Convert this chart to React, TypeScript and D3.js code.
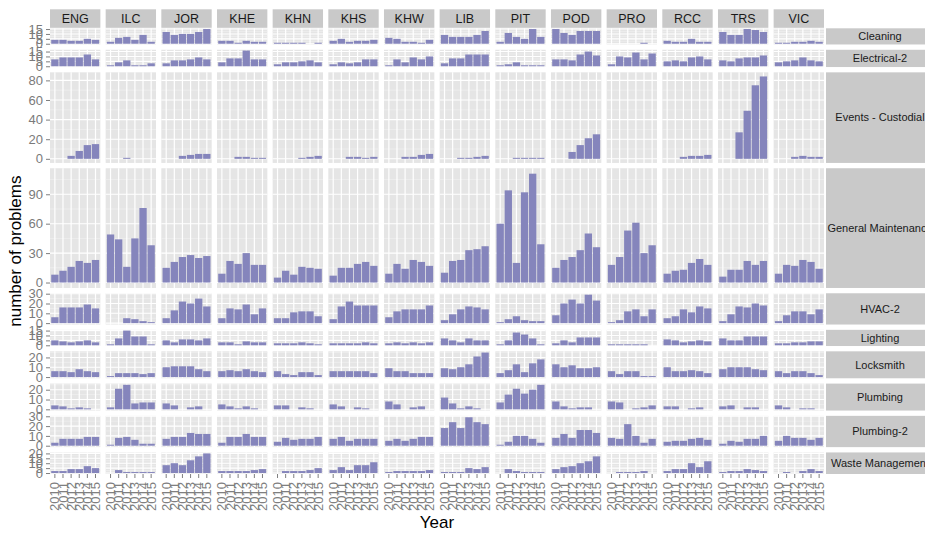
import React, { useEffect, useRef } from "react";
import * as d3 from "d3";

const buildings = ["ENG", "ILC", "JOR", "KHE", "KHN", "KHS", "KHW", "LIB", "PIT", "POD", "PRO", "RCC", "TRS", "VIC"];
const years = ["2010", "2011", "2012", "2013", "2014", "2015"];
const problemTypes = [
  "Cleaning",
  "Electrical-2",
  "Events - Custodial",
  "General Maintenance",
  "HVAC-2",
  "Lighting",
  "Locksmith",
  "Plumbing",
  "Plumbing-2",
  "Waste Management",
];

// one row per building (same order as buildings), one value per year
const cleaning = [
  [4, 4, 3, 3, 5, 4], [2, 6, 7, 4, 9, 2], [12, 9, 10, 10, 12, 15], [3, 3, 1, 3, 2, 2], [1, 1, 1, 1, 0, 1],
  [3, 5, 2, 3, 3, 4], [6, 5, 2, 2, 1, 4], [9, 7, 7, 7, 9, 13], [2, 11, 7, 5, 15, 7], [15, 11, 9, 13, 13, 13],
  [0, 0, 0, 0, 1, 0], [3, 2, 2, 5, 2, 2], [12, 9, 9, 15, 14, 12], [1, 1, 2, 2, 3, 2],
];
const electrical2 = [
  [7, 9, 9, 9, 12, 7], [1, 4, 6, 1, 1, 3], [3, 6, 6, 7, 9, 7], [4, 8, 8, 16, 7, 7], [2, 4, 4, 5, 6, 4],
  [2, 4, 3, 4, 7, 7], [1, 7, 4, 9, 7, 10], [3, 8, 8, 12, 12, 12], [1, 2, 4, 1, 1, 1], [7, 7, 6, 12, 15, 11],
  [2, 10, 9, 14, 7, 13], [5, 6, 5, 9, 10, 7], [6, 5, 8, 9, 9, 11], [4, 5, 6, 9, 6, 5],
];
const eventsCustodial = [
  [0, 0, 3, 8, 14, 15], [0, 0, 1, 0, 0, 0], [0, 0, 3, 4, 5, 5], [0, 0, 2, 2, 1, 1], [0, 0, 0, 1, 2, 3],
  [0, 0, 2, 2, 1, 2], [0, 0, 2, 2, 4, 5], [0, 0, 1, 1, 2, 3], [0, 0, 1, 1, 1, 1], [0, 0, 7, 14, 21, 25],
  [0, 0, 0, 0, 0, 0], [0, 0, 2, 3, 3, 4], [0, 0, 27, 49, 75, 84], [0, 0, 2, 3, 2, 2],
];
const generalMaintenance = [
  [8, 12, 16, 22, 20, 23], [49, 44, 16, 45, 76, 38], [15, 21, 26, 28, 25, 27], [9, 22, 19, 30, 18, 18], [5, 12, 8, 16, 15, 14],
  [7, 15, 15, 19, 21, 17], [9, 19, 14, 23, 21, 17], [10, 22, 23, 33, 34, 37], [60, 94, 20, 92, 111, 39], [15, 23, 26, 33, 50, 36],
  [18, 26, 53, 61, 30, 38], [9, 12, 13, 20, 24, 18], [6, 13, 13, 22, 18, 22], [9, 18, 17, 23, 21, 14],
];
const hvac2 = [
  [6, 16, 16, 16, 19, 15], [0, 0, 5, 4, 2, 1], [5, 13, 22, 20, 25, 17], [5, 15, 14, 19, 9, 15], [5, 5, 11, 12, 12, 7],
  [4, 17, 22, 18, 18, 18], [6, 12, 14, 14, 14, 18], [3, 9, 14, 17, 16, 14], [1, 4, 7, 3, 2, 2], [8, 20, 24, 20, 29, 23],
  [1, 3, 12, 14, 7, 14], [5, 7, 14, 11, 17, 15], [2, 9, 17, 16, 20, 18], [2, 8, 12, 12, 9, 14],
];
const lighting = [
  [5, 4, 3, 4, 5, 3], [1, 7, 15, 9, 9, 1], [5, 3, 6, 6, 5, 7], [3, 3, 1, 4, 3, 3], [2, 2, 2, 3, 2, 1],
  [2, 2, 2, 2, 3, 2], [2, 3, 2, 3, 2, 3], [7, 5, 3, 7, 5, 5], [1, 5, 13, 11, 7, 1], [2, 5, 3, 8, 8, 8],
  [1, 1, 1, 1, 1, 0], [6, 5, 3, 4, 5, 4], [7, 5, 5, 9, 9, 9], [2, 2, 3, 3, 4, 4],
];
const locksmith = [
  [6, 6, 5, 8, 6, 5], [1, 4, 4, 4, 3, 4], [10, 11, 11, 11, 8, 6], [6, 7, 6, 8, 6, 5], [6, 3, 2, 5, 5, 2],
  [6, 6, 6, 6, 6, 4], [9, 6, 6, 4, 4, 4], [9, 8, 10, 13, 21, 25], [4, 7, 13, 5, 14, 18], [13, 10, 12, 9, 9, 10],
  [6, 3, 6, 6, 1, 1], [10, 6, 6, 7, 6, 4], [8, 10, 10, 10, 8, 7], [6, 4, 6, 6, 4, 2],
];
const plumbing = [
  [4, 3, 1, 2, 1, 0], [2, 21, 25, 6, 7, 7], [6, 4, 0, 2, 3, 0], [5, 3, 1, 3, 1, 0], [4, 4, 0, 2, 1, 0],
  [5, 3, 0, 2, 1, 0], [8, 5, 0, 2, 3, 0], [12, 6, 1, 3, 1, 0], [7, 15, 21, 16, 20, 25], [8, 3, 1, 2, 2, 0],
  [8, 7, 0, 1, 2, 4], [3, 3, 0, 1, 2, 0], [3, 4, 0, 2, 2, 0], [4, 2, 0, 1, 1, 0],
];
const plumbing2 = [
  [3, 7, 7, 7, 9, 9], [1, 8, 9, 6, 2, 2], [7, 9, 9, 13, 12, 12], [3, 9, 9, 12, 9, 9], [4, 8, 6, 7, 7, 9],
  [7, 9, 5, 7, 7, 7], [5, 7, 5, 7, 9, 9], [18, 24, 18, 29, 24, 22], [1, 4, 10, 10, 7, 3], [8, 12, 8, 16, 16, 13],
  [8, 7, 22, 10, 3, 7], [4, 5, 5, 7, 8, 6], [2, 5, 4, 7, 7, 10], [5, 10, 8, 8, 6, 8],
];
const wasteManagement = [
  [2, 2, 4, 4, 7, 5], [0, 3, 1, 1, 1, 1], [8, 10, 8, 13, 17, 20], [2, 2, 2, 2, 3, 4], [0, 2, 2, 2, 3, 5],
  [3, 6, 3, 8, 8, 11], [1, 2, 2, 2, 2, 3], [1, 1, 1, 5, 4, 6], [0, 4, 2, 1, 1, 1], [4, 6, 7, 10, 12, 17],
  [0, 1, 1, 1, 2, 0], [2, 4, 4, 10, 6, 12], [1, 2, 2, 4, 3, 2], [0, 1, 0, 2, 4, 2],
];

const rowValues = [cleaning, electrical2, eventsCustodial, generalMaintenance, hvac2, lighting, locksmith, plumbing, plumbing2, wasteManagement];

// y tick labels per row
const rowTicks = [
  [0, 5, 10, 15],
  [0, 5, 10, 15],
  [0, 20, 40, 60, 80],
  [0, 30, 60, 90],
  [0, 10, 20, 30],
  [0, 5, 10, 15],
  [0, 10, 20],
  [0, 10, 20],
  [0, 10, 20, 30],
  [0, 5, 10, 15, 20],
];

const FONT = "'Liberation Sans', Arial, Helvetica, sans-serif";

export default function App() {
  const svgRef = useRef<SVGSVGElement>(null);

  useEffect(() => {
    const svg = d3.select(svgRef.current);
    svg.selectAll("*").remove();

    const width = 925;
    const height = 533;
    const margin = { top: 28.3, right: 101, bottom: 59, left: 50 };
    const gap = 5.3;
    const innerW = width - margin.left - margin.right;
    const innerH = height - margin.top - margin.bottom;
    const colW = (innerW - gap * (buildings.length - 1)) / buildings.length;

    // free y scales, panel heights proportional to each row's range (5% expansion)
    const maxes = rowValues.map((rows) => d3.max(rows, (r) => d3.max(r)) as number);
    const spans = maxes.map((m) => m * 1.1);
    const k = (innerH - gap * (problemTypes.length - 1)) / d3.sum(spans);
    const rowTop: number[] = [];
    let acc = margin.top;
    spans.forEach((s) => {
      rowTop.push(acc);
      acc += s * k + gap;
    });

    const colLeft = buildings.map((_, c) => margin.left + c * (colW + gap));

    // top strips
    buildings.forEach((b, c) => {
      svg.append("rect")
        .attr("x", colLeft[c]).attr("y", 9.3)
        .attr("width", colW).attr("height", margin.top - 9.8)
        .attr("fill", "#c9c9c9");
      svg.append("text")
        .attr("x", colLeft[c] + colW / 2).attr("y", 18.8)
        .attr("dy", "0.35em")
        .attr("text-anchor", "middle")
        .attr("font-family", FONT).attr("font-size", 12.5)
        .attr("fill", "#1a1a1a")
        .text(b);
    });

    problemTypes.forEach((ptype, r) => {
      const y0 = rowTop[r];
      const h = spans[r] * k;
      const yScale = d3.scaleLinear()
        .domain([-0.05 * maxes[r], 1.05 * maxes[r]])
        .range([y0 + h, y0]);
      const ticks = rowTicks[r];
      const step = ticks[1] - ticks[0];
      const minor = ticks.map((t) => t + step / 2).filter((t) => t <= yScale.domain()[1]);

      buildings.forEach((_, c) => {
        const x0 = colLeft[c];
        const xScale = d3.scaleBand()
          .domain(years)
          .range([x0, x0 + colW])
          .paddingInner(0.1)
          .paddingOuter(0.15);

        const g = svg.append("g");
        g.append("rect")
          .attr("x", x0).attr("y", y0)
          .attr("width", colW).attr("height", h)
          .attr("fill", "#e5e5e5");

        g.selectAll(".minor")
          .data(minor)
          .enter()
          .append("line")
          .attr("x1", x0).attr("x2", x0 + colW)
          .attr("y1", (d) => yScale(d)).attr("y2", (d) => yScale(d))
          .attr("stroke", "#f2f2f2").attr("stroke-width", 0.6);

        g.selectAll(".major")
          .data(ticks)
          .enter()
          .append("line")
          .attr("x1", x0).attr("x2", x0 + colW)
          .attr("y1", (d) => yScale(d)).attr("y2", (d) => yScale(d))
          .attr("stroke", "#ffffff").attr("stroke-width", 1.1);

        g.selectAll(".vgrid")
          .data(years)
          .enter()
          .append("line")
          .attr("x1", (d) => (xScale(d) as number) + xScale.bandwidth() / 2)
          .attr("x2", (d) => (xScale(d) as number) + xScale.bandwidth() / 2)
          .attr("y1", y0).attr("y2", y0 + h)
          .attr("stroke", "#ffffff").attr("stroke-width", 1.2);

        g.selectAll(".bar")
          .data(rowValues[r][c])
          .enter()
          .append("rect")
          .attr("x", (_, i) => xScale(years[i]) as number)
          .attr("width", xScale.bandwidth())
          .attr("y", (d) => yScale(d))
          .attr("height", (d) => yScale(0) - yScale(d))
          .attr("fill", "#8585bc");

        if (r === problemTypes.length - 1) {
          const axis = svg.append("g")
            .attr("transform", `translate(0,${y0 + h})`)
            .call(d3.axisBottom(xScale).tickSize(4).tickPadding(4));
          axis.select(".domain").remove();
          axis.selectAll("line").attr("stroke", "#7f7f7f");
          axis.selectAll("text")
            .attr("font-family", FONT).attr("font-size", 13)
            .attr("fill", "#7f7f7f")
            .attr("text-anchor", "end")
            .attr("transform", "rotate(-90)")
            .attr("x", -8).attr("y", 0).attr("dy", "0.35em");
        }
      });

      const yAxis = svg.append("g")
        .attr("transform", `translate(${margin.left},0)`)
        .call(d3.axisLeft(yScale).tickValues(ticks).tickSize(4).tickPadding(3));
      yAxis.select(".domain").remove();
      yAxis.selectAll("line").attr("stroke", "#7f7f7f");
      yAxis.selectAll("text")
        .attr("font-family", FONT).attr("font-size", 13)
        .attr("fill", "#7a7a7a");

      // right strip
      const sx = margin.left + innerW + 2;
      svg.append("rect")
        .attr("x", sx).attr("y", y0)
        .attr("width", 120).attr("height", h)
        .attr("fill", "#c9c9c9");
      svg.append("text")
        .attr("x", 880).attr("y", y0 + h / 2)
        .attr("dy", "0.35em")
        .attr("text-anchor", "middle")
        .attr("font-family", FONT).attr("font-size", 11)
        .attr("fill", "#1a1a1a")
        .text(ptype);
    });

    svg.append("text")
      .attr("transform", `translate(21,${margin.top + innerH / 2}) rotate(-90)`)
      .attr("text-anchor", "middle")
      .attr("font-family", FONT).attr("font-size", 17)
      .attr("fill", "#000")
      .text("number of problems");

    svg.append("text")
      .attr("x", margin.left + innerW / 2).attr("y", 528)
      .attr("text-anchor", "middle")
      .attr("font-family", FONT).attr("font-size", 17)
      .attr("fill", "#000")
      .text("Year");
  }, []);

  return (
    <svg
      ref={svgRef}
      width={925}
      height={533}
      style={{ position: "absolute", left: 0, top: 0, background: "#ffffff" }}
    />
  );
}
